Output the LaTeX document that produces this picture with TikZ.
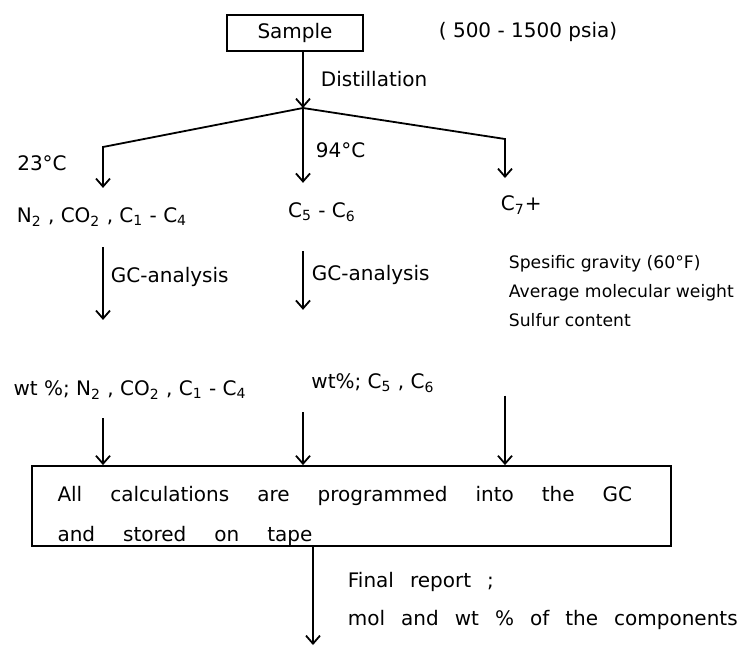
\documentclass[tikz,border=0pt]{standalone}
\usepackage{fontspec}
\setmainfont{DejaVu Sans}
\usetikzlibrary{arrows.meta}
\usetikzlibrary{math}
\usetikzlibrary{calc}

\begin{document}
\begin{tikzpicture}[x=0.5pt,y=-0.5pt,line width=0.9pt,
  flow/.style={-{Straight Barb[length=4pt,width=7pt]}},
  txt/.style={inner sep=0pt,font=\fontsize{10}{12}\selectfont},
  frame/.style={draw,txt,inner sep=3pt},
  wide/.style={execute at begin node={\spaceskip=#1 plus 0.1em}}]

  \tikzmath{
    \xleft  = 103; % left stream
    \xmid   = 303; % middle stream
    \xright = 505; % right stream
  }

  \useasboundingbox (0,0) rectangle (745,647);

  % Sample and distillation
  \node[frame, minimum width=68pt, minimum height=18pt] (sample) at (295,33) {Sample};
  \node[txt, anchor=west] (psia) at (438,32) {( 500 - 1500 psia)};
  \coordinate (split) at (\xmid,108);
  \coordinate (lcorner) at (\xleft,147);
  \coordinate (rcorner) at (\xright,139);
  \draw[flow] (sample.south -| split) -- (split);
  \node[txt, anchor=west] (distil) at (320,79) {Distillation};

  % fractions
  \node[txt] (t23) at (42,163) {23°C};
  \node[txt, anchor=west] (t94) at (315,150) {94°C};
  \node[txt] (light) at (102,217) {N\textsubscript{2} , CO\textsubscript{2} , C\textsubscript{1} - C\textsubscript{4}};
  \node[txt] (middle) at (322,212) {C\textsubscript{5} - C\textsubscript{6}};
  \node[txt, anchor=west] (heavy) at (500,205) {C\textsubscript{7}+};

  \draw[flow, shorten >=9.5pt] (split) -- (lcorner) -- (light.north -| lcorner);
  \draw[flow, shorten >=9.5pt] (split) -- (middle.north -| split);
  \draw[flow, shorten >=8.5pt] (split) -- (rcorner) -- (heavy.north -| rcorner);

  % analysis
  \node[txt, anchor=west] (gcl) at (110,277) {GC-analysis};
  \node[txt, anchor=west] (gcm) at (311,275) {GC-analysis};
  \node[txt, anchor=west, align=left, font=\fontsize{8.6}{10.5}\selectfont] (props) at (508,291)
  {Spesific gravity (60°F)\\[4pt] Average molecular weight\\[4pt] Sulfur content};

  \node[txt] (lwt) at (130,390) {wt \%; N\textsubscript{2} , CO\textsubscript{2} , C\textsubscript{1} - C\textsubscript{4}};
  \node[txt] (mwt) at (373,383) {wt\%; C\textsubscript{5} , C\textsubscript{6}};

  \draw[flow, shorten <=10pt, shorten >=30pt] (light.south -| lcorner) -- (lwt.north -| lcorner);
  \draw[flow, shorten <=14.5pt, shorten >=31.5pt] (middle.south -| split) -- (mwt.north -| split);

  % calculations
  \node[frame, wide=1.4em, minimum width=319.5pt, minimum height=40pt, text width=294pt, align=left,
    inner xsep=12.5pt, inner ysep=0pt] (calc) at (351.5,506)
  {\rule{0pt}{17.5pt}All calculations are programmed into the GC\\[8pt] and stored on tape};

  \draw[flow, shorten <=9pt] (lwt.south -| lcorner) -- (calc.north -| lcorner);
  \draw[flow, shorten <=9.5pt] (mwt.south -| split) -- (calc.north -| split);
  \draw[flow, shorten <=34pt] (props.south -| rcorner) -- (calc.north -| rcorner);

  % report
  \coordinate (report) at (313,645);
  \draw[flow] (calc.south -| report) -- (report);
  \node[txt, wide=0.8em, anchor=west, align=left] (final) at (347,601)
  {Final report ;\\[7pt] mol and wt \% of the components};

\end{tikzpicture}
\end{document}
